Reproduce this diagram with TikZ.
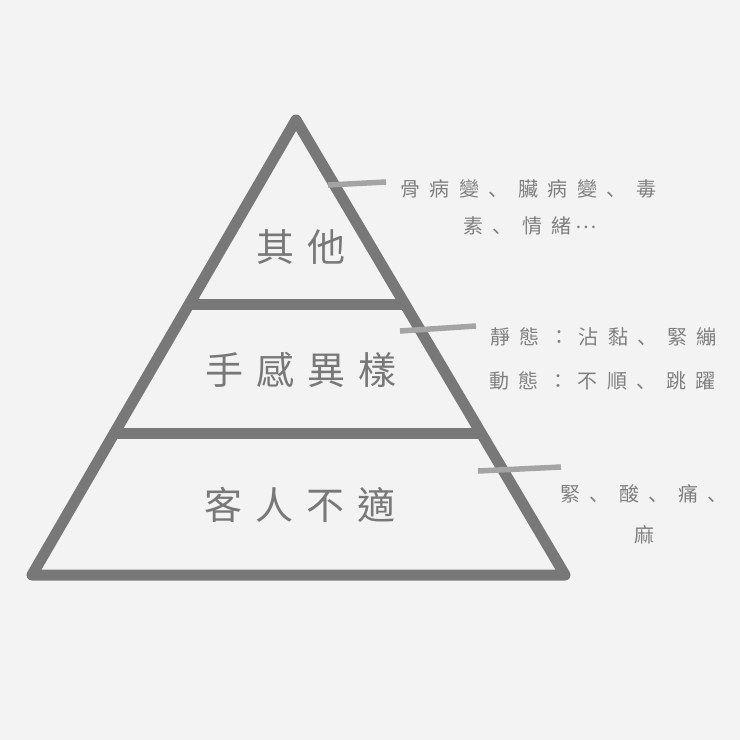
\documentclass[tikz,border=0pt]{standalone}
\usepackage{fontspec}
\usetikzlibrary{calc}
\newfontfamily\cjk{Noto Sans CJK TC}
\newfontfamily\cjkjp{Noto Sans CJK JP}
\definecolor{bg}{HTML}{F3F3F3}
\definecolor{ink}{HTML}{787878}
\definecolor{tickc}{HTML}{A4A4A4}
\definecolor{txt}{HTML}{808080}
\newcommand\dun{{\cjkjp 、}}
\newcommand\ga{\hspace{13pt}}
\newcommand\gb{\hspace{9.5pt}}
\tikzset{
  pyr/.style={draw=ink, line width=11pt, line join=round},
  tickline/.style={draw=tickc, line width=5.5pt},
  mainlbl/.style={inner sep=0pt, text=ink, font=\cjk\fontsize{38}{40}\selectfont},
  sidelbl/.style={inner sep=0pt, text=txt, anchor=west, font=\cjk\fontsize{20}{22}\selectfont},
}
\begin{document}
\begin{tikzpicture}[x=1pt,y=-1pt]
\fill[bg] (0,0) rectangle (740,740);
\useasboundingbox (0,0) rectangle (740,740);
\coordinate (apex) at (296,120);
\coordinate (bl) at (32,575);
\coordinate (br) at (565,575);
\draw[pyr] (apex) -- (br) -- (bl) -- cycle;
\coordinate (d1l) at ($(bl)!0.5956!(apex)$);
\coordinate (d1r) at ($(br)!0.5956!(apex)$);
\coordinate (d2l) at ($(bl)!0.3121!(apex)$);
\coordinate (d2r) at ($(br)!0.3121!(apex)$);
\draw[pyr] (d1l) -- (d1r);
\draw[pyr] (d2l) -- (d2r);
% ticks
\coordinate (t1a) at (328,185); \coordinate (t1b) at (386,182);
\coordinate (t2a) at (400,331); \coordinate (t2b) at (476,326);
\coordinate (t3a) at (478,471); \coordinate (t3b) at (561,467);
\draw[tickline] (t1a) -- (t1b);
\draw[tickline] (t2a) -- (t2b);
\draw[tickline] (t3a) -- (t3b);
% main labels
\node[mainlbl] (other) at (301,247) {其\ga 他};
\node[mainlbl] (hand) at (301,370) {手\ga 感\ga 異\ga 樣};
\node[mainlbl] (guest) at (300,505) {客\ga 人\ga 不\ga 適};
% side labels
\node[sidelbl] (o1) at (400,189) {骨\gb 病\gb 變\gb\dun\gb 臟\gb 病\gb 變\gb\dun\gb 毒};
\node[sidelbl] (o2) at (463,226) {素\gb\dun\gb 情\gb 緒\hspace{4pt}\raisebox{5pt}{…}};
\node[sidelbl] (h1) at (490,337) {靜\gb 態\gb ：\gb 沾\gb 黏\gb\dun\gb 緊\gb 繃};
\node[sidelbl] (h2) at (489,381) {動\gb 態\gb ：\gb 不\gb 順\gb\dun\gb 跳\gb 躍};
\node[sidelbl] (g1) at (560,494) {緊\gb\dun\gb 酸\gb\dun\gb 痛\gb\dun};
\node[sidelbl] (g2) at (634,535) {麻};
\end{tikzpicture}
\end{document}
